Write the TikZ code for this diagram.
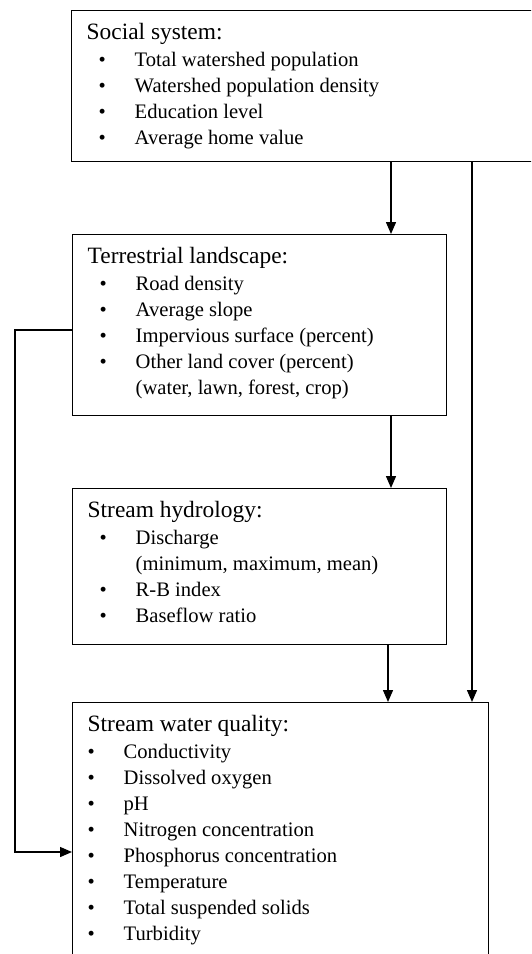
\documentclass[tikz,border=0pt]{standalone}
\usepackage{fontspec}
\setmainfont{Liberation Serif}
\usetikzlibrary{arrows.meta}
\newlength{\bulletindent}
\newcommand{\bitem}[1]{\par\hspace*{\bulletindent}\makebox[18pt][l]{\textbullet}#1}
\newcommand{\bcont}[1]{\par\hspace*{\dimexpr\bulletindent+18pt\relax}#1}
\newcommand{\boxtitle}[1]{\fontsize{11.7}{13}\selectfont #1\par\vspace{0.5pt}\fontsize{10.3}{13}\selectfont}
\tikzset{
  factor/.style={draw, line width=0.7pt, anchor=north west, inner xsep=7.5pt, inner ysep=6.5pt},
  arr/.style={line width=0.7pt, -{Triangle[length=6pt,width=5pt]}}
}

\begin{document}
\begin{tikzpicture}[x=0.5pt,y=-0.5pt]
  \useasboundingbox (0,0) rectangle (531,954);
  \clip (0,0) rectangle (531,954);
  % boxes
  \node[factor] (social) at (71,10) {\parbox[c][62.5pt][t]{249.5pt}{\setlength{\bulletindent}{6pt}%
    \boxtitle{Social system:}
    \bitem{Total watershed population}
    \bitem{Watershed population density}
    \bitem{Education level}
    \bitem{Average home value}}};
  \node[factor] (terr) at (72,234) {\parbox[c][77.5pt][t]{172pt}{\setlength{\bulletindent}{6pt}%
    \boxtitle{Terrestrial landscape:}
    \bitem{Road density}
    \bitem{Average slope}
    \bitem{Impervious surface (percent)}
    \bitem{Other land cover (percent)}
    \bcont{(water, lawn, forest, crop)}}};
  \node[factor] (hydro) at (72,488) {\parbox[c][65pt][t]{172pt}{\setlength{\bulletindent}{6pt}%
    \boxtitle{Stream hydrology:}
    \bitem{Discharge}
    \bcont{(minimum, maximum, mean)}
    \bitem{R-B index}
    \bitem{Baseflow ratio}}};
  \node[factor] (quality) at (72,702) {\parbox[c][137pt][t]{193pt}{\setlength{\bulletindent}{0pt}%
    \boxtitle{Stream water quality:}
    \bitem{Conductivity}
    \bitem{Dissolved oxygen}
    \bitem{pH}
    \bitem{Nitrogen concentration}
    \bitem{Phosphorus concentration}
    \bitem{Temperature}
    \bitem{Total suspended solids}
    \bitem{Turbidity}}};
  % arrows
  \coordinate (colA) at (391,0);
  \coordinate (colB) at (388,0);
  \coordinate (colC) at (472,0);
  \coordinate (colL) at (15,0);
  \coordinate (rowT) at (0,330);
  \coordinate (rowQ) at (0,852);
  \draw[arr] (social.south -| colA) -- (terr.north -| colA);
  \draw[arr] (terr.south -| colA) -- (hydro.north -| colA);
  \draw[arr] (hydro.south -| colB) -- (quality.north -| colB);
  \draw[arr] (social.south -| colC) -- (quality.north -| colC);
  \draw[arr] (terr.west |- rowT) -- (colL |- rowT) -- (colL |- rowQ) -- (quality.west |- rowQ);
\end{tikzpicture}
\end{document}
